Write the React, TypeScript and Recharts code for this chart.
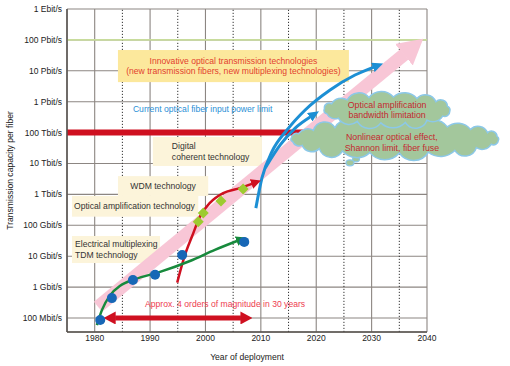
import React from 'react'
import {
  ComposedChart,
  Line,
  XAxis,
  YAxis,
  CartesianGrid,
  ReferenceLine,
  ReferenceArea,
  ReferenceDot,
} from 'recharts'

const FONT = '"Liberation Sans", Arial, Helvetica, sans-serif'

// axes
const yearTicks = [1980, 1990, 2000, 2010, 2020, 2030, 2040]
const halfYears = [1985, 1995, 2005, 2015, 2025, 2035]
const capTicks = [1e8, 1e9, 1e10, 1e11, 1e12, 1e13, 1e14, 1e15, 1e16, 1e17, 1e18]
const capLabels = [
  '100 Mbit/s', '1 Gbit/s', '10 Gbit/s', '100 Gbit/s', '1 Tbit/s', '10 Tbit/s',
  '100 Tbit/s', '1 Pbit/s', '10 Pbit/s', '100 Pbit/s', '1 Ebit/s',
]

// pink overall trend arrow
const trendYears = [1980.6, 2035.9]
const trendCap = [2.3e8, 3.4e16]

// electrical multiplexing / TDM (green)
const tdmYears = [1980.4, 1981.3, 1982.8, 1984.6, 1987.3, 1991.8, 1997.2, 2001.7, 2005.7]
const tdmCap = [5.9e7, 1.8e8, 5.5e8, 1.1e9, 1.8e9, 3.1e9, 7.0e9, 1.6e10, 3.1e10]
const tdmDotYears = [1981.0, 1983.1, 1986.9, 1990.9, 1995.8, 2007.0]
const tdmDotCap = [8.6e7, 4.4e8, 1.7e9, 2.5e9, 1.1e10, 2.9e10]

// WDM / optical amplification (red)
const wdmYears = [1994.9, 1996.3, 1997.6, 1999.0, 2000.8, 2003.2, 2006.2, 2008.4]
const wdmCap = [1.4e9, 1.1e10, 4.5e10, 1.9e11, 5.3e11, 1.1e12, 1.6e12, 2.2e12]
const wdmMarkYears = [1998.7, 1999.6, 2002.8, 2006.8]
const wdmMarkCap = [1.3e11, 2.5e11, 6.1e11, 1.5e12]

// digital coherent (blue)
const cohYears = [2009.1, 2010.2, 2012.0, 2014.7, 2018.0, 2022.5, 2027.0, 2030.3]
const cohCap = [3.6e11, 3.4e12, 2.4e13, 1.2e14, 5.4e14, 2.4e15, 7.3e15, 1.3e16]
const branchYears = [2010.8, 2013.5, 2016.2, 2018.9]
const branchCap = [7.2e12, 4.0e13, 1.4e14, 3.2e14]

// "4 orders of magnitude in 30 years"
const spanYears = [1983.7, 2006.4]
const spanCap = [1e8, 1e8]

const powerLimit = 1e14
const greenLimit = 1e17

const zip = (xs: number[], ys: number[]) => xs.map((x, i) => ({ x, y: ys[i] }))

const BLUE = '#1c8fd4'
const RED = '#cf1020'
const GREEN = '#178a3c'
const PINK = '#f8c6d6'

const boxes = [
  { lines: ['Innovative optical transmission technologies', '(new transmission fibers, new multiplexing technologies)'],
    x1: 1984.2, x2: 2025.9, y1: 4.3e15, y2: 4.7e16, fill: '#fce89c', color: '#e2412e', align: 'middle', pad: 0 },
  { lines: ['Digital', 'coherent technology'],
    x1: 1990.5, x2: 2010.2, y1: 8.3e12, y2: 7.2e13, fill: '#fcf4da', color: '#333', align: 'start', pad: 19 },
  { lines: ['WDM technology'],
    x1: 1984.2, x2: 2000.5, y1: 8.9e11, y2: 3.9e12, fill: '#fcf4da', color: '#333', align: 'middle', pad: 0 },
  { lines: ['Optical amplification technology'],
    x1: 1975.9, x2: 1998.7, y1: 1.9e11, y2: 8.9e11, fill: '#fcf4da', color: '#333', align: 'start', pad: 2 },
  { lines: ['Electrical multiplexing', 'TDM technology'],
    x1: 1975.9, x2: 1991.8, y1: 6.0e9, y2: 4.5e10, fill: '#fcf4da', color: '#333', align: 'start', pad: 3 },
]

const clouds = [
  { x: 2034.2, y: 6.2e13, rx: 104, ry: 14, lines: ['Nonlinear optical effect,', 'Shannon limit, fiber fuse'], dx: -3, dy: -2,
    bumps: [0.6, 0.7, 0.55, 0.75, 0.6, 0.65, 0.7, 0.55, 0.6, 0.7, 0.6, 0.65, 0.75, 0.55, 0.6, 0.7, 0.6, 0.65, 0.7, 0.6, 0.55, 0.7] },
  { x: 2032.8, y: 5.4e14, rx: 63, ry: 13, lines: ['Optical amplification', 'bandwidth limitation'], dx: 0, dy: -5,
    bumps: [0.6, 0.7, 0.55, 0.7, 0.6, 0.65, 0.75, 0.6, 0.55, 0.7, 0.6, 0.65, 0.7, 0.6, 0.55, 0.7] },
]

function cloudPath(cx: number, cy: number, rx: number, ry: number, bumps: number[]) {
  const n = bumps.length
  const pts = bumps.map((_, i) => {
    const a = (i / n) * Math.PI * 2 + 0.1
    return [cx + rx * Math.cos(a), cy + ry * Math.sin(a)]
  })
  let d = `M${pts[0][0]},${pts[0][1]}`
  for (let i = 0; i < n; i++) {
    const p = pts[i]
    const q = pts[(i + 1) % n]
    const r = Math.hypot(q[0] - p[0], q[1] - p[1]) * bumps[i]
    d += ` A${r},${r} 0 0 1 ${q[0]},${q[1]}`
  }
  return d + ' Z'
}

function Head({ id, color, len, wid }: any) {
  return (
    <marker
      id={id}
      markerUnits="userSpaceOnUse"
      viewBox={`0 0 ${len} ${wid}`}
      markerWidth={len}
      markerHeight={wid}
      refX={0.5}
      refY={wid / 2}
      orient="auto-start-reverse"
    >
      <path d={`M0,0 L${len},${wid / 2} L0,${wid} Z`} fill={color} />
    </marker>
  )
}

function BoxShape(props: any) {
  const { x, y, width, height, box } = props
  const lh = 10.5
  const y0 = y + height / 2 - ((box.lines.length - 1) * lh) / 2
  const tx = box.align === 'middle' ? x + width / 2 : x + box.pad
  return (
    <g>
      <rect x={x} y={y} width={width} height={height} fill={box.fill} />
      {box.lines.map((t: string, i: number) => (
        <text key={i} x={tx} y={y0 + i * lh} textAnchor={box.align} dominantBaseline="central"
          fontSize={8.6} fontFamily={FONT} fill={box.color}>
          {t}
        </text>
      ))}
    </g>
  )
}

function CloudShape(props: any) {
  const { cx, cy, c } = props
  if (cx == null || cy == null) return null
  return (
    <g>
      <path d={cloudPath(cx, cy, c.rx, c.ry, c.bumps)} fill="#a3c79c" stroke="#8cc8e8" strokeWidth={1.5} />
      {c.lines.map((t: string, i: number) => (
        <text key={i} x={cx + c.dx} y={cy + c.dy + i * 10.5} textAnchor="middle" dominantBaseline="central"
          fontSize={8.8} fontFamily={FONT} fill="#c42a30">
          {t}
        </text>
      ))}
    </g>
  )
}

function Bubbles(props: any) {
  const { cx, cy } = props
  if (cx == null) return null
  return (
    <g fill="#a3c79c" stroke="#8cc8e8" strokeWidth={1.2}>
      <ellipse cx={cx} cy={cy} rx={4} ry={3} />
      <ellipse cx={cx + 6} cy={cy - 3.5} rx={3.5} ry={2.5} />
    </g>
  )
}

function FreeText(props: any) {
  const { cx, cy, text, color } = props
  if (cx == null) return null
  return (
    <text x={cx} y={cy} dominantBaseline="central" fontSize={8.6} fontFamily={FONT} fill={color}>
      {text}
    </text>
  )
}

function YTick(props: any) {
  const { x, y, payload } = props
  return (
    <text x={x} y={y} textAnchor="end" dominantBaseline="central" fontSize={8.5} fontFamily={FONT} fill="#222">
      {capLabels[Math.round(Math.log10(payload.value)) - 8]}
    </text>
  )
}

const blueDot = (p: any) => <circle key={p.index} cx={p.cx} cy={p.cy} r={5} fill="#1767b6" />
const diamond = (p: any) => (
  <path key={p.index} d={`M${p.cx},${p.cy - 5.5} L${p.cx + 5.5},${p.cy} L${p.cx},${p.cy + 5.5} L${p.cx - 5.5},${p.cy} Z`}
    fill="#9dcb30" />
)

export default function App() {
  const tick = { fontSize: 8.5, fill: '#222', fontFamily: FONT }
  return (
    <div style={{ position: 'absolute', left: 0, top: 0, width: 510, height: 366, background: '#fff' }}>
      <svg width={0} height={0} style={{ position: 'absolute' }}>
        <defs>
          <Head id="hdBlue" color={BLUE} len={11} wid={10} />
          <Head id="hdRed" color={RED} len={10} wid={10} />
          <Head id="hdGreen" color={GREEN} len={10} wid={10} />
          <Head id="hdSpan" color={RED} len={12} wid={13} />
          <Head id="hdPink" color={PINK} len={25} wid={28} />
        </defs>
      </svg>
      <ComposedChart width={510} height={366} margin={{ top: 9, right: 83, bottom: 6, left: 7 }}>
        <CartesianGrid stroke="#8c8682" strokeWidth={1.1} />
        <XAxis
          type="number"
          dataKey="x"
          domain={[1975, 2040]}
          ticks={yearTicks}
          allowDataOverflow
          tickLine={false}
          tickSize={1}
          tickMargin={2}
          height={28}
          axisLine={{ stroke: '#55504c', strokeWidth: 1.5 }}
          tick={tick}
          label={{ value: 'Year of deployment', position: 'insideBottom', offset: 0, fontSize: 8.6, fill: '#222', fontFamily: FONT }}
        />
        <YAxis
          type="number"
          scale="log"
          domain={[3.52e7, 1e18]}
          ticks={capTicks}
          allowDataOverflow
          tickLine={false}
          tickSize={3}
          tickMargin={2}
          width={60}
          axisLine={{ stroke: '#55504c', strokeWidth: 1.5 }}
          tick={<YTick />}
          label={{
            value: 'Transmission capacity per fiber',
            angle: -90,
            position: 'insideLeft',
            offset: 3,
            style: { textAnchor: 'middle' },
            fontSize: 8.6,
            fill: '#222',
            fontFamily: FONT,
          }}
        />

        {halfYears.map((yr) => (
          <ReferenceLine key={yr} x={yr} stroke="#333" strokeDasharray="1.2 1.8" strokeWidth={1} zIndex={10} />
        ))}
        <ReferenceLine y={greenLimit} stroke="#c8dc9c" strokeWidth={1.6} zIndex={20} />

        {boxes.map((b, i) => (
          <ReferenceArea key={i} x1={b.x1} x2={b.x2} y1={b.y1} y2={b.y2} zIndex={30}
            shape={(p: any) => <BoxShape {...p} box={b} />} />
        ))}

        <ReferenceLine y={powerLimit} stroke={RED} strokeWidth={6} zIndex={40} />

        <Line data={zip(trendYears, trendCap)} dataKey="y" type="linear" stroke={PINK} strokeWidth={13}
          dot={false} activeDot={false} isAnimationActive={false} markerEnd="url(#hdPink)" zIndex={50} />

        <ReferenceDot x={2026.1} y={1.05e13} r={0} zIndex={60} shape={(p: any) => <Bubbles {...p} />} />
        {clouds.map((c, i) => (
          <ReferenceDot key={i} x={c.x} y={c.y} r={0} zIndex={61 + i} shape={(p: any) => <CloudShape {...p} c={c} />} />
        ))}

        <Line data={zip(cohYears, cohCap)} dataKey="y" type="monotone" stroke={BLUE} strokeWidth={3}
          dot={false} activeDot={false} isAnimationActive={false} markerEnd="url(#hdBlue)" zIndex={70} />
        <Line data={zip(branchYears, branchCap)} dataKey="y" type="monotone" stroke={BLUE} strokeWidth={3}
          dot={false} activeDot={false} isAnimationActive={false} markerEnd="url(#hdBlue)" zIndex={70} />
        <Line data={zip(wdmYears, wdmCap)} dataKey="y" type="monotone" stroke={RED} strokeWidth={2.5}
          dot={false} activeDot={false} isAnimationActive={false} markerEnd="url(#hdRed)" zIndex={80} />
        <Line data={zip(tdmYears, tdmCap)} dataKey="y" type="monotone" stroke={GREEN} strokeWidth={2.5}
          dot={false} activeDot={false} isAnimationActive={false} markerEnd="url(#hdGreen)" zIndex={80} />
        <Line data={zip(tdmDotYears, tdmDotCap)} dataKey="y" stroke="none" strokeWidth={0}
          dot={blueDot} activeDot={false} isAnimationActive={false} zIndex={90} />
        <Line data={zip(wdmMarkYears, wdmMarkCap)} dataKey="y" stroke="none" strokeWidth={0}
          dot={diamond} activeDot={false} isAnimationActive={false} zIndex={90} />
        <Line data={zip(spanYears, spanCap)} dataKey="y" type="linear" stroke={RED} strokeWidth={5}
          dot={false} activeDot={false} isAnimationActive={false}
          markerStart="url(#hdSpan)" markerEnd="url(#hdSpan)" zIndex={90} />

        <ReferenceDot x={1986.9} y={5.8e14} r={0} zIndex={95}
          shape={(p: any) => <FreeText {...p} text="Current optical fiber input power limit" color="#2a8fd6" />} />
        <ReferenceDot x={1989.1} y={2.84e8} r={0} zIndex={95}
          shape={(p: any) => <FreeText {...p} text="Approx. 4 orders of magnitude in 30 years" color="#ee3d4f" />} />
      </ComposedChart>
    </div>
  )
}
